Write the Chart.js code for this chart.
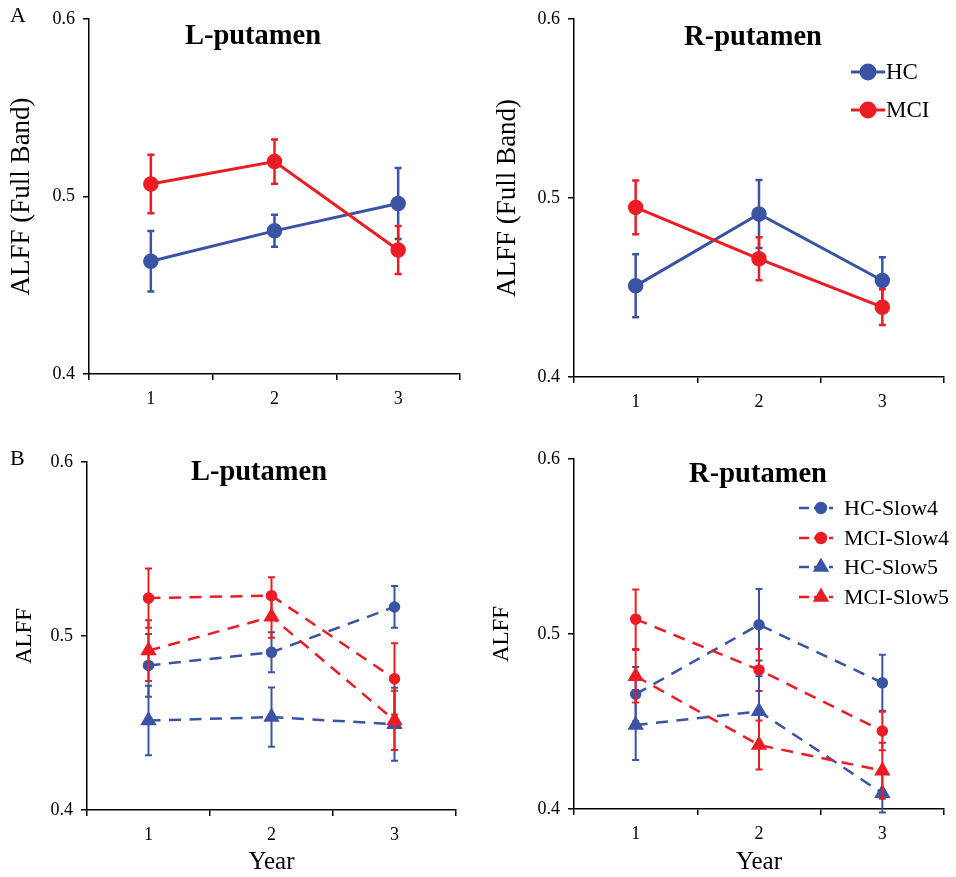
<!DOCTYPE html>
<html>
<head>
<meta charset="utf-8">
<script src="https://cdn.jsdelivr.net/npm/chart.js@4.4.1/dist/chart.umd.min.js"></script>
<style>
  html, body { margin: 0; padding: 0; background: #fff; }
  #wrap { position: relative; width: 956px; height: 877px; overflow: hidden; }
  canvas { position: absolute; }
</style>
</head>
<body>
<div id="wrap">
  <canvas id="cAL" width="478" height="420" style="left:0px;top:0px;width:478px;height:420px"></canvas>
  <canvas id="cAR" width="478" height="420" style="left:478px;top:0px;width:478px;height:420px"></canvas>
  <canvas id="cBL" width="478" height="447" style="left:0px;top:430px;width:478px;height:447px"></canvas>
  <canvas id="cBR" width="478" height="447" style="left:478px;top:430px;width:478px;height:447px"></canvas>
</div>
<script>
// ---------- DATA ----------
const years = ['1', '2', '3'];
const yTickStep = 0.1;
const yMin = 0.4;
const yMax = 0.6;

// Panel A : full band
const lFullHC     = [0.4635, 0.4806, 0.4960];
const lFullHCErr  = [0.0170, 0.0090, 0.0200];
const lFullMCI    = [0.5070, 0.5196, 0.4698];
const lFullMCIErr = [0.0165, 0.0125, 0.0135];

const rFullHC     = [0.4509, 0.4910, 0.4539];
const rFullHCErr  = [0.0176, 0.0190, 0.0130];
const rFullMCI    = [0.4947, 0.4660, 0.4390];
const rFullMCIErr = [0.0150, 0.0120, 0.0100];

// Panel B : slow-4 / slow-5
const lSlow4HC     = [0.4831, 0.4906, 0.5167];
const lSlow4HCErr  = [0.0180, 0.0115, 0.0120];
const lSlow4MCI    = [0.5218, 0.5232, 0.4754];
const lSlow4MCIErr = [0.0170, 0.0105, 0.0205];
const lSlow5HC     = [0.4514, 0.4534, 0.4493];
const lSlow5HCErr  = [0.0200, 0.0170, 0.0210];
const lSlow5MCI    = [0.4916, 0.5110, 0.4515];
const lSlow5MCIErr = [0.0175, 0.0120, 0.0170];

const rSlow4HC     = [0.4656, 0.5053, 0.4721];
const rSlow4HCErr  = [0.0155, 0.0204, 0.0160];
const rSlow4MCI    = [0.5085, 0.4795, 0.4446];
const rSlow4MCIErr = [0.0170, 0.0120, 0.0110];
const rSlow5HC     = [0.4480, 0.4558, 0.4090];
const rSlow5HCErr  = [0.0200, 0.0200, 0.0110];
const rSlow5MCI    = [0.4759, 0.4366, 0.4219];
const rSlow5MCIErr = [0.0150, 0.0140, 0.0160];

// ---------- STYLE ----------
const BLUE = '#3a54a4';
const RED = '#ec1c24';
const FONT = "'Liberation Serif', 'Times New Roman', serif";
Chart.defaults.font.family = FONT;
Chart.defaults.color = '#000';

// ---------- PLUGINS ----------
const errorBarPlugin = {
  id: 'errorBars',
  beforeDatasetDraw(chart, args) {
    const ds = chart.data.datasets[args.index];
    if (!ds.errorBars) return;
    const ys = chart.scales.y;
    const ctx = chart.ctx;
    const cap = ds.errorCap || 3.5;
    ctx.save();
    ctx.strokeStyle = ds.borderColor;
    ctx.lineWidth = ds.errorWidth || 2;
    ctx.setLineDash([]);
    args.meta.data.forEach((pt, i) => {
      const v = ds.data[i], e = ds.errorBars[i];
      const top = ys.getPixelForValue(v + e);
      const bot = ys.getPixelForValue(v - e);
      ctx.beginPath();
      ctx.moveTo(pt.x, top); ctx.lineTo(pt.x, bot);
      ctx.moveTo(pt.x - cap, top); ctx.lineTo(pt.x + cap, top);
      ctx.moveTo(pt.x - cap, bot); ctx.lineTo(pt.x + cap, bot);
      ctx.stroke();
    });
    ctx.restore();
  }
};

const textPlugin = {
  id: 'panelText',
  afterDraw(chart, args, opts) {
    if (!opts.items) return;
    const ctx = chart.ctx;
    ctx.save();
    opts.items.forEach(it => {
      ctx.font = it.font + ' ' + FONT;
      ctx.fillStyle = '#000';
      ctx.textAlign = it.align || 'left';
      ctx.textBaseline = 'middle';
      ctx.fillText(it.text, it.x, it.y);
    });
    ctx.restore();
  }
};

const legendPlugin = {
  id: 'customLegend',
  afterDraw(chart, args, opts) {
    if (!opts.rows) return;
    const ctx = chart.ctx;
    ctx.save();
    chart.data.datasets.forEach((ds, i) => {
      const y = opts.rows[i];
      ctx.strokeStyle = ds.borderColor;
      ctx.lineWidth = ds.borderWidth;
      ctx.setLineDash(opts.dash || []);
      ctx.beginPath();
      ctx.moveTo(opts.lineStart, y);
      ctx.lineTo(opts.lineEnd, y);
      ctx.stroke();
      ctx.setLineDash([]);
      ctx.fillStyle = ds.pointBackgroundColor;
      ctx.strokeStyle = ds.pointBorderColor;
      Chart.helpers.drawPoint(ctx, {
        pointStyle: ds.pointStyle, radius: opts.markerRadius[i],
        rotation: 0, borderWidth: ds.pointBorderWidth
      }, opts.markerX, y);
      ctx.font = opts.font + ' ' + FONT;
      ctx.fillStyle = '#000';
      ctx.textAlign = 'left';
      ctx.textBaseline = 'middle';
      ctx.fillText(ds.label, opts.textX, y + 1);
    });
    ctx.restore();
  }
};

// ---------- BUILDERS ----------
function series(label, data, err, color, style, dashed, order) {
  const full = !dashed;
  return {
    label: label,
    data: data,
    errorBars: err,
    errorWidth: full ? 2.5 : 2,
    errorCap: 3.5,
    borderColor: color,
    backgroundColor: color,
    pointBackgroundColor: color,
    pointBorderColor: color,
    pointBorderWidth: 1.5,
    pointStyle: style,
    pointRadius: full ? 7 : (style === 'triangle' ? 8 : 5),
    borderWidth: full ? 3 : 2.5,
    borderDash: dashed ? [12, 8.5] : [],
    tension: 0,
    fill: false,
    order: order
  };
}

function makePanel(id, cfg) {
  const canvas = document.getElementById(id);
  const W = canvas.width, H = canvas.height;
  const a = cfg.area;
  const axisGrid = {
    display: true, drawOnChartArea: false, drawTicks: true,
    tickLength: 6, color: '#000', lineWidth: 1.5
  };
  return new Chart(canvas, {
    type: 'line',
    data: { labels: years, datasets: cfg.datasets },
    options: {
      responsive: false,
      animation: false,
      events: [],
      layout: { padding: { left: 0, top: a.top, right: W - a.right, bottom: 0 } },
      plugins: {
        legend: { display: false },
        tooltip: { enabled: false },
        title: { display: false },
        panelText: { items: cfg.texts },
        customLegend: cfg.legend || {}
      },
      scales: {
        x: {
          type: 'category',
          offset: true,
          grid: Object.assign({ offset: true }, axisGrid),
          border: { display: true, color: '#000', width: 1.5 },
          ticks: { color: '#000', font: { size: 18 }, padding: 8, maxRotation: 0 },
          title: cfg.xTitle ? { display: true, text: cfg.xTitle, color: '#000',
                  font: { size: 25 }, padding: { top: 0, bottom: 0 } } : { display: false },
          afterFit(scale) { scale.height = H - a.bottom; }
        },
        y: {
          type: 'linear',
          min: yMin, max: yMax,
          grid: axisGrid,
          border: { display: true, color: '#000', width: 1.5 },
          ticks: { stepSize: yTickStep, color: '#000', font: { size: 18 }, padding: 8,
                   callback: v => Number(v).toFixed(1) },
          title: { display: true, text: cfg.yTitle, color: '#000',
                   font: { size: cfg.yTitleSize }, padding: { top: cfg.yTitlePad, bottom: 0 } },
          afterFit(scale) { scale.width = a.left; }
        }
      }
    },
    plugins: [errorBarPlugin, textPlugin, legendPlugin]
  });
}

// ---------- PANELS ----------
makePanel('cAL', {
  area: { left: 89, right: 460, top: 15, bottom: 374 },
  yTitle: 'ALFF (Full Band)', yTitleSize: 27, yTitlePad: 6,
  datasets: [
    series('HC', lFullHC, lFullHCErr, BLUE, 'circle', false, 2),
    series('MCI', lFullMCI, lFullMCIErr, RED, 'circle', false, 1)
  ],
  texts: [
    { text: 'A', x: 10, y: 16, font: '22px' },
    { text: 'L-putamen', x: 253, y: 37, font: 'bold 28.5px', align: 'center' }
  ]
});

makePanel('cAR', {
  area: { left: 96, right: 466, top: 18, bottom: 377 },
  yTitle: 'ALFF (Full Band)', yTitleSize: 27, yTitlePad: 14,
  datasets: [
    series('HC', rFullHC, rFullHCErr, BLUE, 'circle', false, 2),
    series('MCI', rFullMCI, rFullMCIErr, RED, 'circle', false, 1)
  ],
  texts: [
    { text: 'R-putamen', x: 275, y: 38, font: 'bold 28.5px', align: 'center' }
  ],
  legend: { rows: [72, 110], lineStart: 373, lineEnd: 407, markerX: 390,
            markerRadius: [7, 7], textX: 408, font: '23px' }
});

makePanel('cBL', {
  area: { left: 87, right: 456, top: 32, bottom: 380 },
  yTitle: 'ALFF', yTitleSize: 23, yTitlePad: 11, xTitle: 'Year',
  datasets: [
    series('HC-Slow4', lSlow4HC, lSlow4HCErr, BLUE, 'circle', true, 4),
    series('MCI-Slow4', lSlow4MCI, lSlow4MCIErr, RED, 'circle', true, 3),
    series('HC-Slow5', lSlow5HC, lSlow5HCErr, BLUE, 'triangle', true, 2),
    series('MCI-Slow5', lSlow5MCI, lSlow5MCIErr, RED, 'triangle', true, 1)
  ],
  texts: [
    { text: 'B', x: 10, y: 29, font: '22px' },
    { text: 'L-putamen', x: 259, y: 43, font: 'bold 28.5px', align: 'center' }
  ]
});

makePanel('cBR', {
  area: { left: 96, right: 466, top: 29, bottom: 379 },
  yTitle: 'ALFF', yTitleSize: 23, yTitlePad: 10, xTitle: 'Year',
  datasets: [
    series('HC-Slow4', rSlow4HC, rSlow4HCErr, BLUE, 'circle', true, 4),
    series('MCI-Slow4', rSlow4MCI, rSlow4MCIErr, RED, 'circle', true, 3),
    series('HC-Slow5', rSlow5HC, rSlow5HCErr, BLUE, 'triangle', true, 2),
    series('MCI-Slow5', rSlow5MCI, rSlow5MCIErr, RED, 'triangle', true, 1)
  ],
  texts: [
    { text: 'R-putamen', x: 280, y: 45, font: 'bold 28.5px', align: 'center' }
  ],
  legend: { rows: [78, 108, 137, 167], lineStart: 321, lineEnd: 355, markerX: 343,
            markerRadius: [5, 5, 7, 7], textX: 366, font: '22px', dash: [10, 5] }
});
</script>
</body>
</html>
